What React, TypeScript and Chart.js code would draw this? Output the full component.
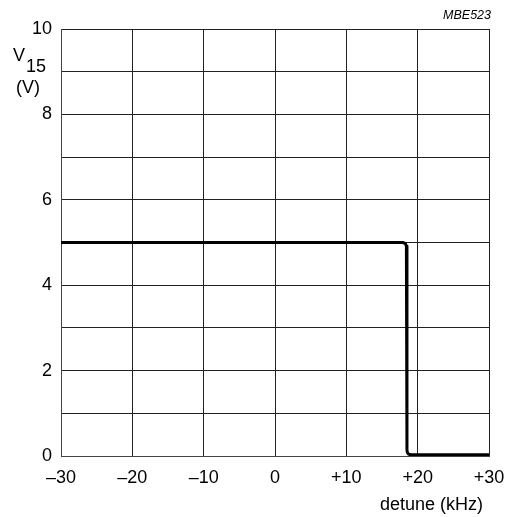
import React, { useEffect, useRef } from "react";
import { Chart, registerables } from "chart.js";

Chart.register(...registerables);

// detune (kHz) and V15 (V)
const detuneKHz = [-30, 17.9, 18.25, 18.42, 18.5, 18.5, 18.56, 18.75, 19.1, 30];
const v15Volts = [5, 5, 4.98, 4.92, 4.8, 0.14, 0.08, 0.04, 0.03, 0.03];

const xTickValues = [-30, -20, -10, 0, 10, 20, 30];
const yLabelValues = [0, 2, 4, 6, 8, 10];

const FONT = "'Liberation Sans', Arial, Helvetica, sans-serif";
const FS = 18;

function fmtX(v: number): string {
  if (v === 0) return "0";
  if (v > 0) return "+" + v;
  return "\u2013" + Math.abs(v);
}

const textPlugin = {
  id: "extraText",
  afterDraw(chart: any) {
    const ctx = chart.ctx;
    ctx.save();
    ctx.fillStyle = "#000";
    ctx.textBaseline = "alphabetic";
    // Y axis title V15 (V)
    ctx.font = `${FS}px ${FONT}`;
    ctx.textAlign = "left";
    ctx.fillText("V", 13, 61);
    ctx.fillText("15", 26, 72);
    ctx.fillText("(V)", 16, 93);
    // X axis title
    ctx.textAlign = "right";
    ctx.fillText("detune (kHz)", 483, 510);
    // figure code
    ctx.font = `italic 12.5px ${FONT}`;
    ctx.fillText("MBE523", 491, 19);
    ctx.restore();
  },
};

export default function App() {
  const ref = useRef<HTMLCanvasElement | null>(null);
  useEffect(() => {
    if (!ref.current) return;
    const chart = new Chart(ref.current, {
      type: "line",
      data: {
        datasets: [
          {
            data: detuneKHz.map((x, i) => ({ x, y: v15Volts[i] })),
            borderColor: "#000",
            borderWidth: 3,
            pointRadius: 0,
            fill: false,
            tension: 0,
            borderJoinStyle: "round",
            borderCapStyle: "butt",
          },
        ],
      },
      options: {
        animation: false,
        responsive: false,
        maintainAspectRatio: false,
        layout: { padding: { top: 29, right: 21, left: 0, bottom: 0 } },
        plugins: { legend: { display: false }, tooltip: { enabled: false } },
        scales: {
          x: {
            type: "linear",
            min: -30,
            max: 30,
            afterBuildTicks(scale: any) {
              scale.ticks = xTickValues.map((v) => ({ value: v }));
            },
            afterFit(scale: any) {
              scale.height = 61;
              scale.paddingLeft = 0;
              scale.paddingRight = 0;
            },
            ticks: {
              callback: (v: any) => fmtX(Number(v)),
              color: "#000",
              font: { family: FONT, size: FS },
              padding: 11,
              maxRotation: 0,
              autoSkip: false,
            },
            grid: { color: "#222", lineWidth: 1, drawTicks: false },
            border: { color: "#444", width: 1 },
          },
          y: {
            type: "linear",
            min: 0,
            max: 10,
            ticks: {
              stepSize: 1,
              callback: (v: any) => (yLabelValues.includes(Number(v)) ? String(v) : ""),
              color: "#000",
              font: { family: FONT, size: FS },
              padding: 9,
              autoSkip: false,
            },
            afterFit(scale: any) {
              scale.width = 61;
              scale.paddingTop = 0;
              scale.paddingBottom = 0;
            },
            grid: { color: "#222", lineWidth: 1, drawTicks: false },
            border: { color: "#444", width: 1 },
          },
        },
      } as any,
      plugins: [textPlugin],
    });
    return () => chart.destroy();
  }, []);
  return (
    <div style={{ position: "fixed", left: 0, top: 0, width: 510, height: 517, background: "#fff" }}>
      <canvas ref={ref} width={510} height={517} style={{ width: 510, height: 517, display: "block" }} />
    </div>
  );
}
